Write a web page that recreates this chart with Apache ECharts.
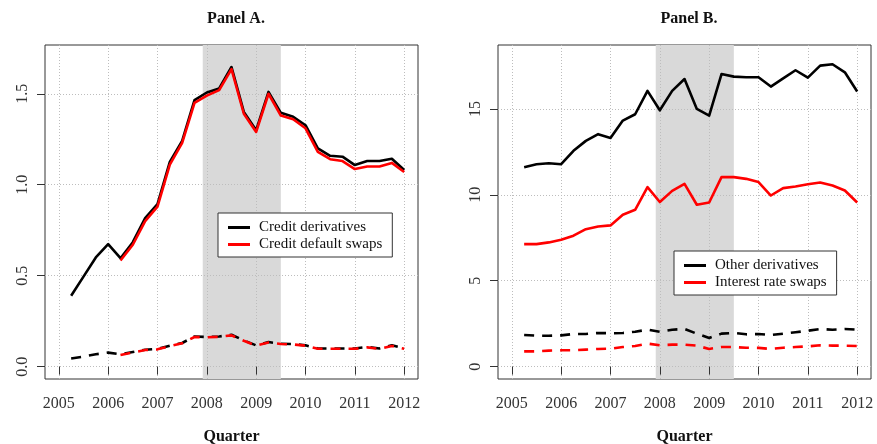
<!DOCTYPE html>
<html>
<head>
<meta charset="utf-8">
<script src="https://cdn.jsdelivr.net/npm/echarts@6/dist/echarts.min.js"></script>
<style>
  html, body { margin: 0; padding: 0; background: #fff; }
  #chart { width: 877px; height: 444px; }
</style>
</head>
<body>
<div id="chart"></div>
<script>
// Quarter-end dates as decimal years
const quarters = [2005.25, 2005.5, 2005.75, 2006.0, 2006.25, 2006.5, 2006.75, 2007.0,
  2007.25, 2007.5, 2007.75, 2008.0, 2008.25, 2008.5, 2008.75, 2009.0,
  2009.25, 2009.5, 2009.75, 2010.0, 2010.25, 2010.5, 2010.75, 2011.0,
  2011.25, 2011.5, 2011.75, 2012.0];
const yearTicks = [2005, 2006, 2007, 2008, 2009, 2010, 2011, 2012];
const ticksA = [0, 0.5, 1.0, 1.5];
const ticksB = [0, 5, 10, 15];
const recession = [2007.917, 2009.5];

// Panel A
const creditDerivatives = [0.39, 0.495, 0.60, 0.673, 0.596, 0.684, 0.816, 0.894, 1.126, 1.241,
  1.465, 1.507, 1.529, 1.647, 1.40, 1.30, 1.51, 1.395, 1.373, 1.327,
  1.20, 1.159, 1.154, 1.108, 1.13, 1.13, 1.143, 1.081];
const creditDefaultSwaps = [null, null, null, null, 0.583, 0.67, 0.80, 0.88, 1.11, 1.23,
  1.45, 1.49, 1.52, 1.635, 1.39, 1.29, 1.50, 1.38, 1.36, 1.31,
  1.18, 1.14, 1.13, 1.086, 1.10, 1.10, 1.12, 1.07];
const creditDerivativesLow = [0.045, 0.055, 0.068, 0.077, 0.068, 0.08, 0.093, 0.097, 0.115, 0.13,
  0.166, 0.163, 0.166, 0.175, 0.144, 0.117, 0.135, 0.126, 0.124, 0.117,
  0.10, 0.10, 0.10, 0.10, 0.108, 0.10, 0.117, 0.10];
const creditDefaultSwapsLow = [null, null, null, null, 0.064, 0.078, 0.091, 0.095, 0.113, 0.128,
  0.163, 0.161, 0.164, 0.172, 0.142, 0.115, 0.133, 0.124, 0.122, 0.115,
  0.098, 0.098, 0.098, 0.098, 0.106, 0.098, 0.114, 0.098];

// Panel B
const otherDerivatives = [11.61, 11.78, 11.84, 11.78, 12.56, 13.14, 13.53, 13.31, 14.32, 14.69,
  16.05, 14.92, 16.05, 16.74, 15.0, 14.61, 17.03, 16.88, 16.84, 16.84,
  16.3, 16.78, 17.25, 16.82, 17.52, 17.6, 17.13, 16.01];
const interestRateSwaps = [7.13, 7.13, 7.23, 7.38, 7.62, 8.0, 8.16, 8.22, 8.84, 9.13,
  10.45, 9.58, 10.23, 10.64, 9.42, 9.55, 11.03, 11.03, 10.93, 10.74,
  9.96, 10.39, 10.48, 10.62, 10.72, 10.54, 10.25, 9.55];
const otherDerivativesLow = [1.84, 1.80, 1.80, 1.82, 1.90, 1.90, 1.96, 1.94, 1.96, 2.03,
  2.15, 2.03, 2.15, 2.19, 1.92, 1.67, 1.92, 1.96, 1.88, 1.90,
  1.84, 1.92, 2.0, 2.09, 2.19, 2.15, 2.19, 2.15];
const interestRateSwapsLow = [0.89, 0.89, 0.93, 0.95, 0.95, 0.99, 1.03, 1.04, 1.14, 1.20,
  1.34, 1.24, 1.28, 1.28, 1.22, 1.03, 1.14, 1.14, 1.10, 1.09,
  1.03, 1.10, 1.14, 1.18, 1.24, 1.22, 1.22, 1.20];

const FONT = 'Liberation Serif';
const pairs = vals => quarters.map((q, i) => [q, vals[i]]);

function xAxisFor(gi) {
  return {
    type: 'value', gridIndex: gi, min: 2004.72, max: 2012.28, z: 1.5,
    name: 'Quarter', nameLocation: 'middle', nameGap: 50,
    nameTextStyle: { fontFamily: FONT, fontWeight: 'bold', fontSize: 16, color: '#111' },
    axisLine: { show: false },
    axisTick: { show: true, customValues: yearTicks, length: 8, lineStyle: { color: '#333' } },
    axisLabel: { customValues: yearTicks, margin: 17, fontFamily: FONT, fontSize: 16, color: '#333',
      formatter: v => String(Math.round(v)) },
    splitLine: { show: true, lineStyle: { color: '#bdbdbd', type: [1, 2], width: 1 } }
  };
}
function yAxisFor(gi, lo, hi, ticks, digits) {
  return {
    type: 'value', gridIndex: gi, min: lo, max: hi, z: 1.5,
    axisLine: { show: false },
    axisTick: { show: true, customValues: ticks, length: 8, lineStyle: { color: '#333' } },
    axisLabel: { customValues: ticks, rotate: 90, margin: 14, fontFamily: FONT, fontSize: 16, color: '#333',
      formatter: v => v.toFixed(digits) },
    splitLine: { show: true, lineStyle: { color: '#bdbdbd', type: [1, 2], width: 1 } }
  };
}
function bandSeries(gi) {
  return {
    type: 'line', xAxisIndex: gi, yAxisIndex: gi, data: [], z: 1, silent: true,
    markArea: { silent: true, itemStyle: { color: '#d9d9d9' },
      data: [[{ xAxis: recession[0] }, { xAxis: recession[1] }]] }
  };
}
function lineSeries(gi, name, vals, color, dashed) {
  return {
    type: 'line', name, xAxisIndex: gi, yAxisIndex: gi, data: pairs(vals), z: 2,
    showSymbol: false, symbol: 'none', connectNulls: false, animation: false,
    color,
    lineStyle: { color, width: 2.6, type: dashed ? [10, 8] : 'solid', cap: 'butt', join: 'round' }
  };
}

const legendText = { fontFamily: FONT, fontSize: 15, color: '#111', padding: [0, 0, 0, 4] };
const gridBase = { top: 45, width: 373, height: 334, show: true, borderColor: '#333', borderWidth: 1,
  backgroundColor: 'transparent', containLabel: false, outerBoundsMode: 'none' };

const option = {
  animation: false,
  title: [
    { text: 'Panel A.', left: 231, top: 6, textAlign: 'center',
      textStyle: { fontFamily: FONT, fontWeight: 'bold', fontSize: 16, color: '#111' } },
    { text: 'Panel B.', left: 684, top: 6, textAlign: 'center',
      textStyle: { fontFamily: FONT, fontWeight: 'bold', fontSize: 16, color: '#111' } }
  ],
  grid: [
    Object.assign({ left: 45 }, gridBase),
    Object.assign({ left: 498 }, gridBase)
  ],
  xAxis: [xAxisFor(0), xAxisFor(1)],
  yAxis: [yAxisFor(0, -0.068, 1.768, ticksA, 1), yAxisFor(1, -0.72, 18.72, ticksB, 0)],
  legend: [
    { data: ['Credit derivatives', 'Credit default swaps'], orient: 'vertical',
      left: 218, top: 213, icon: 'rect', itemWidth: 22, itemHeight: 3, itemGap: 2,
      padding: [7, 10, 5, 10], borderColor: '#333', borderWidth: 1, backgroundColor: '#fff',
      textStyle: legendText, selectedMode: false },
    { data: ['Other derivatives', 'Interest rate swaps'], orient: 'vertical',
      left: 674, top: 251, icon: 'rect', itemWidth: 22, itemHeight: 3, itemGap: 2,
      padding: [7, 10, 5, 10], borderColor: '#333', borderWidth: 1, backgroundColor: '#fff',
      textStyle: legendText, selectedMode: false }
  ],
  series: [
    bandSeries(0),
    lineSeries(0, 'Credit derivatives', creditDerivatives, '#000', false),
    lineSeries(0, 'Credit default swaps', creditDefaultSwaps, '#ff0000', false),
    lineSeries(0, 'Credit derivatives', creditDerivativesLow, '#000', true),
    lineSeries(0, 'Credit default swaps', creditDefaultSwapsLow, '#ff0000', true),
    bandSeries(1),
    lineSeries(1, 'Other derivatives', otherDerivatives, '#000', false),
    lineSeries(1, 'Interest rate swaps', interestRateSwaps, '#ff0000', false),
    lineSeries(1, 'Other derivatives', otherDerivativesLow, '#000', true),
    lineSeries(1, 'Interest rate swaps', interestRateSwapsLow, '#ff0000', true)
  ]
};

const chart = echarts.init(document.getElementById('chart'), null, { renderer: 'canvas' });
chart.setOption(option);
</script>
</body>
</html>
